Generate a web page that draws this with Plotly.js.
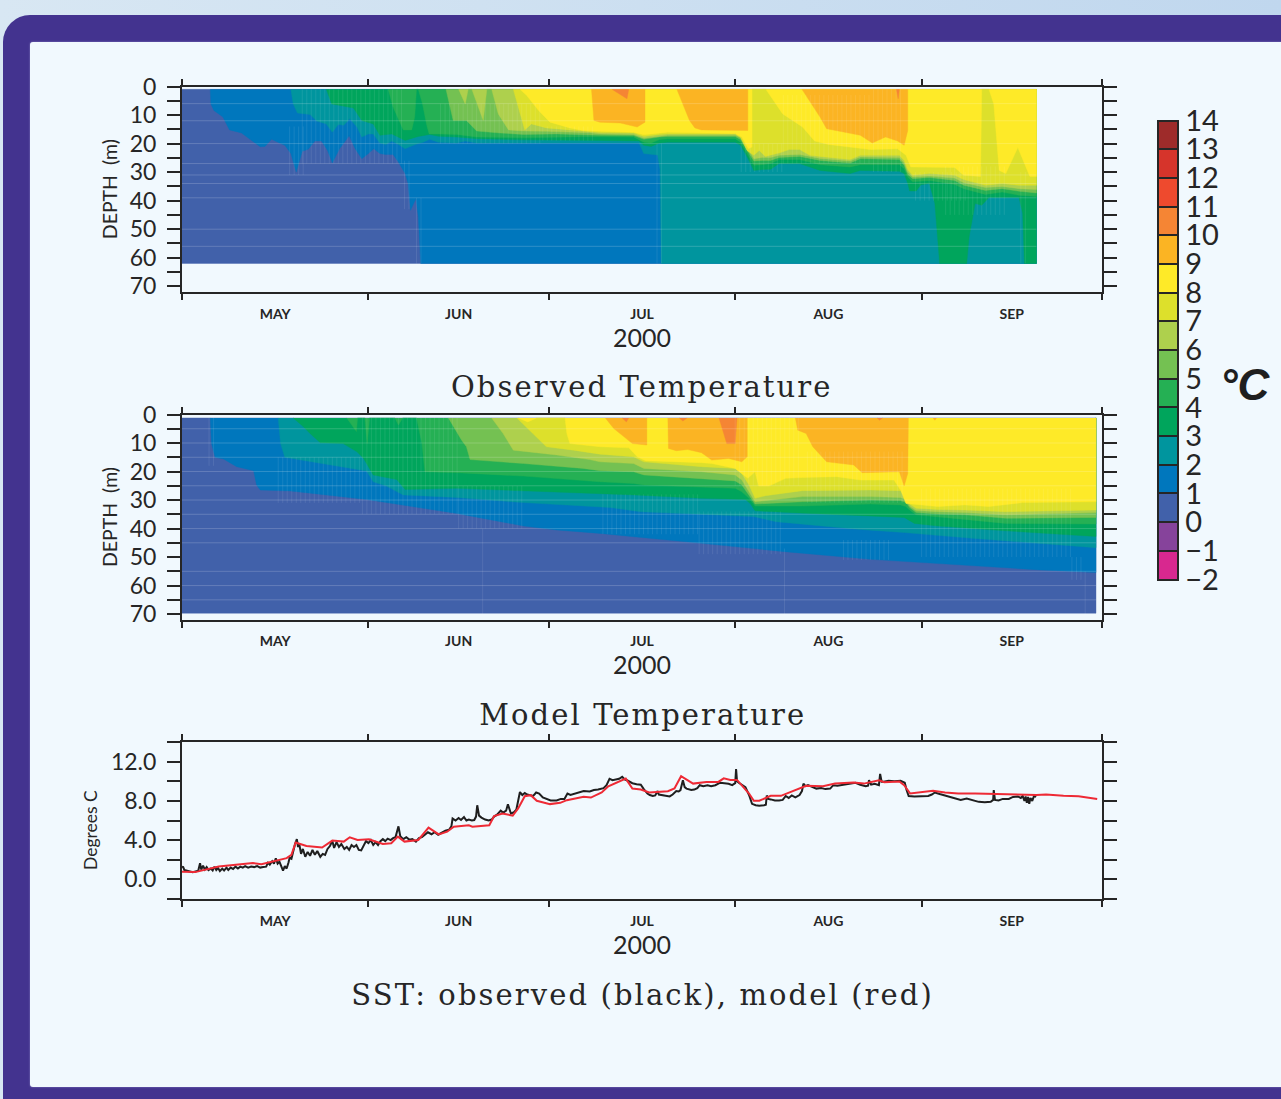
<!DOCTYPE html>
<html>
<head>
<meta charset="utf-8">
<script src="https://cdn.plot.ly/plotly-3.0.1.min.js"></script>
<style>
html,body{margin:0;padding:0;width:1281px;height:1099px;overflow:hidden;background:linear-gradient(90deg,#d8e7f3,#c0d7ee);}
#frame{position:absolute;left:3px;top:15px;width:1400px;height:1200px;background:#43338f;border-radius:27px;}
#panel{position:absolute;left:30px;top:42px;width:1300px;height:1045px;background:#f1f9fe;border-radius:3px 0 0 3px;box-shadow:0 0 2px #8f86c4;}
#chart{position:absolute;left:0;top:0;width:1281px;height:1099px;}
#chart .annotation[data-index="0"] .annotation-text,
#chart .annotation[data-index="1"] .annotation-text,
#chart .annotation[data-index="2"] .annotation-text{letter-spacing:2.1px;}
</style>
</head>
<body>
<div id="frame"></div>
<div id="panel"></div>
<div id="chart"></div>
<script>
// ---------- data: [days since 1 May 2000, depth in m] for each isotherm ----------
const tempLevels = [-2,-1,0,1,2,3,4,5,6,7,8,9,10,11,12,13,14];
const bandColors = ['#d8288f','#86439b','#4161aa','#0077bd','#00959e','#00a55c','#25b054','#74c152','#aed04d','#dde02b','#feea28','#fbb423','#f58534','#ee4a2e','#d6342b','#9e2b2a'];

// Upper panel (Observed Temperature)
const obsTop = 1, obsBottom = 62, obsEnd = 142.1;
const obsT1 = [[4.7,1],[4.8,6.1],[5.3,8.4],[6.8,10.7],[7.9,15.2],[9.9,16.3],[11.3,18.5],[13,21.1],[13.8,21],[14.9,18.5],[16.2,19.8],[17.1,20.6],[18.1,23.5],[19,30],[20,22.7],[21,22],[22.1,19.1],[23.2,19.1],[24.2,22.4],[25,26.8],[26.2,21.8],[27.8,17.3],[28.8,21.8],[29.9,25.3],[31,23.5],[31.9,21.8],[32.9,23.5],[33.8,23.8],[35.1,23.8],[36,26.5],[37.1,30.5],[37.6,34],[38,43.4],[38.9,39.3],[39.3,45.7],[39.7,62],[142.1,62]];
const obsT2 = [[18.1,1],[18.5,6.1],[19.2,9.3],[21.3,9.8],[22.4,12.1],[24,13.1],[25,16],[26,13.3],[26.9,13.6],[27.9,11.3],[29.1,14.2],[29.9,17.7],[31,16.6],[31.8,16.6],[32.9,19.8],[33.9,20.3],[34.9,19.1],[36,20.3],[37.1,21.8],[38.8,20.3],[40.1,19.5],[41.2,18.5],[42.6,19.5],[45.7,19.8],[47.1,19.1],[49,19.8],[76,19.8],[76.8,23.5],[79.1,24],[79.5,29],[79.7,62],[142.1,62]];
const obsT3 = [[24,1],[24.9,6.1],[28.5,7.5],[29.9,11.9],[31.8,13.1],[32.9,17.1],[34.9,16.6],[37.1,18.9],[39.3,17.5],[41.2,16.8],[42.6,17.4],[45.7,17.7],[49,18.3],[56.8,18.7],[69.5,18.9],[76,19.1],[76.8,20.6],[78,21],[79.4,19.8],[80.8,19.5],[92,19.5],[92.9,20.6],[94,24.7],[95.1,29.4],[96.5,29.1],[97.9,29],[99.3,27],[102.7,27],[106.1,29.4],[111.1,30.5],[112.8,29.4],[119.3,29.7],[120.1,30.5],[120.7,34],[121,36.6],[122.1,36.6],[122.9,34.4],[124.3,34],[125.2,41],[126,62],[130.5,62],[130.9,52.7],[131.9,41],[133,41.6],[134.2,38.9],[139.2,38.9],[139.8,44.5],[140.1,62],[142.1,62]];
const obsT4 = [[34.3,1],[35.1,7.2],[36.8,15.2],[38.2,15.2],[38.7,10.7],[39,1],[39.3,1],[40,6.1],[40.7,13.6],[41.1,16.6],[42.6,16.6],[45.7,16.8],[49,17.7],[56.8,18],[66.7,17.6],[69.5,17.7],[75.1,17.7],[76.8,19.5],[78,19.8],[79.4,18.6],[80.8,18.3],[92,18.3],[92.9,19.5],[94,23.5],[95.1,27.6],[96.5,27.4],[97.9,27],[99.3,25.6],[102.7,25.6],[106.1,27.4],[111.1,28.2],[112.8,27.4],[119.3,27.4],[120.1,28.8],[120.7,31.7],[121.5,33.4],[124.3,32.9],[128.5,34.3],[130,35.8],[133.6,37.8],[136.4,37],[139.2,38.1],[142.1,38.5]];
const obsT5 = [[43.9,1],[45.1,11.9],[47.3,11.9],[49,15.6],[52.9,16.3],[56.8,16.8],[62.3,16.6],[66.7,16.9],[69.5,17.1],[75.1,17.2],[76.8,18.5],[79.4,17.7],[80.8,17.5],[92,17.5],[92.9,18.6],[94,22.4],[95.1,26.1],[96.5,25.9],[97.9,25.9],[99.3,24.9],[102.7,24.5],[106.1,25.9],[111.1,26.8],[112.8,25.3],[119.3,25.6],[120.1,27.6],[120.7,30.8],[121.5,32.3],[124.3,31.9],[128.5,32.9],[130,34.6],[133.6,36.4],[136.4,35.8],[139.2,36.7],[142.1,37.3]];
const obsT6 = [[46,1],[47.1,6.1],[47.6,1],[48.2,1],[50.1,11.9],[50.7,1],[51.5,1],[52.6,9.6],[54.3,15.2],[56.8,15.6],[60.6,15.7],[64.5,16],[67.8,16.2],[69.5,16.6],[75.1,16.8],[76.8,18.1],[79.4,17.4],[80.8,17.1],[92,17.1],[92.9,17.9],[94,21.4],[95.1,25.3],[96.5,24.9],[97.9,24.9],[99.3,24.1],[102.7,23.8],[106.1,25.2],[111.1,26.1],[112.8,24.7],[119.3,24.9],[120.1,26.8],[120.7,30],[121.5,31.7],[124.3,31.4],[128.5,32.1],[130,33.7],[133.6,35.4],[136.4,35],[139.2,35.8],[142.1,36.1]];
const obsT7 = [[55.1,1],[56.2,9.6],[57,15.2],[58.1,13.1],[60.6,14.5],[64.5,15.2],[66.7,15.7],[69.5,16.1],[75.1,16.3],[76.8,17.5],[79.4,16.8],[80.8,16.6],[92,16.6],[92.9,17.9],[94,22.5],[95.1,24.1],[96,22.4],[97,24.5],[99.3,23.3],[101,22.1],[102.7,22.1],[104.4,24.1],[106.1,24.5],[111.1,25.6],[112.8,24.1],[119.3,24.1],[120.1,25.9],[120.7,29.1],[121.5,31.1],[124.3,30.5],[128.5,31.1],[130,32.6],[133.6,34.6],[136.4,34],[139.2,34.6],[142.1,34.6]];
const obsT8 = [[56.2,1],[57.3,3.1],[59.3,8.4],[61.2,12.5],[64.5,14.5],[66.7,15.4],[69.5,15.7],[75.1,16],[76.8,16.9],[79.4,16.3],[80.8,16],[92,16.5],[93.1,17.7],[94.2,21.8],[94.8,21.2],[94.8,1],[97.1,1],[99.9,9.6],[103.2,14.2],[105.2,19.1],[107.5,20.3],[114.5,22.1],[119,21.8],[120.4,24.1],[121.2,28.2],[128.5,28.4],[130,31.1],[132.8,31.5],[133,1],[134.2,1],[135,6.1],[135.9,29.4],[137,30.5],[139,21.4],[141,31.5],[142.1,31.5]];
const obsT9a = [[68.1,1],[68.5,11.9],[69.5,12.5],[72.9,12.8],[75.7,14.2],[77,12.5],[77,1]];
const obsT9b = [[82.3,1],[84.4,11.9],[85.3,14.5],[86.4,15.2],[94.1,15.4],[94.1,1]];
const obsT9c = [[103.1,1],[106.1,10.7],[107.2,14.8],[112.8,17.1],[114.8,19.8],[117,17.7],[119,19.1],[120.1,20.6],[120.7,15.4],[120.7,1]];
const obsT10a = [[71.5,1],[74,4.3],[74.3,1]];
const obsT10b = [[118.8,1],[119.1,4.3],[119.3,1]];
const obsSeams = [6,12,20,27,31,34,39,50,56];
// tile seams of the source image: [first day, last day, depth from, depth to]
const obsCombs = [[17.9,20.5,14,31],[20,37,1,27],[37,38,26,43],[39,40,39,62],[43,60,6,20],[60,69,14,19],[79,80,20,62],[93,100,20,30],[100,115,3,27],[115,120,1,30],[122,131,30,40],[127,137,28,45],[139.5,141,30,62]];

// Middle panel (Model Temperature)
const modTop = 1.2, modBottom = 69.7, modEnd = 152;
const modT1 = [[4.7,1.2],[4.9,10.2],[5.5,15],[6.9,15.6],[9.1,18.3],[11.9,19.7],[12.4,24.7],[13,26.5],[18,26.8],[30.7,29.8],[45.7,34.7],[56.8,39.1],[62.3,40.5],[69.5,41.7],[86.4,45.2],[100.2,48.1],[114.5,50.8],[125.7,52.2],[142.6,54.5],[152,55.4]];
const modT2 = [[16,1.2],[16.4,10.2],[17.1,15],[23.5,17.2],[30.7,19.8],[31.8,23.6],[34,25.1],[36.8,28.2],[45.7,29.1],[56.8,30.9],[71.2,32.6],[76.3,34.1],[88.1,35.2],[95.1,35.8],[98.8,37.6],[112.8,40.3],[120.1,41.4],[131.4,43.4],[152,46.7]];
const modT3 = [[18.5,1.2],[20.2,4.3],[21.3,6.7],[23,9.9],[26.8,10.2],[29.1,13.1],[30.2,15.4],[31.8,21.2],[35.7,22.8],[37.1,26.3],[45.7,25.9],[56.8,26.7],[71.2,27.7],[75.1,28.2],[86.4,29.4],[93.7,29.8],[94.5,31.2],[95.3,33.8],[104.4,34.7],[120.1,36.1],[121.8,38.2],[125.7,39.1],[137,40.8],[152,42.8]];
const modT4 = [[27.4,1.2],[29,6],[29.2,1.2],[30.4,1.2],[30.8,10.2],[31.2,1.2],[35.4,1.2],[36,3.7],[36.7,1.2],[39,1.2],[39.9,10.2],[40.4,20.1],[45.7,20.4],[56.8,21.6],[69.5,23.6],[75.1,24.2],[76.8,24.7],[86.4,25.6],[92,25.9],[93.1,27.1],[94.3,29.4],[95.3,32.1],[103.2,32.1],[114.5,31.4],[119.5,31.7],[120.4,32.3],[121,33.5],[122.1,35.2],[125.7,36],[130.2,36.8],[137,38.2],[152,38.4]];
const modT5 = [[44.3,1.2],[46.5,9],[47.3,11.3],[47.9,15.8],[56.8,17.2],[66.7,18.9],[69.5,19.7],[75.1,20.1],[76.8,21.2],[86.4,22.4],[92,23.3],[93.1,24.7],[94.3,28.2],[95.3,31.4],[103.2,30.6],[114.5,30],[119.5,30.2],[120.4,30.9],[121,32.6],[122.1,34.4],[125.7,34.9],[130.2,35.2],[137,36.4],[152,36.1]];
const modT6 = [[51.5,1.2],[53.4,6.7],[55.1,12.5],[62.3,14.2],[67.8,15.8],[69.5,16.6],[75.1,17.2],[76.8,18.9],[86.4,20.1],[92,21.2],[93.1,23],[94.3,27.4],[95.3,30.6],[103.2,28.8],[114.5,28.8],[119.5,29.1],[120.4,29.8],[121,32.1],[122.1,33.7],[125.7,34.1],[130.2,34.4],[137,35.2],[152,34.4]];
const modT7 = [[55.7,1.2],[58.4,6.7],[60.6,11.3],[65.1,12.5],[69.5,13.9],[75.1,14.8],[76.8,16.6],[86.4,18.3],[92,18.9],[93.1,20.7],[94.3,24.7],[95.3,29.4],[97,28.5],[103.2,26.7],[114.5,26.5],[119.5,26.7],[120.4,28.2],[121,31.4],[122.1,32.9],[125.7,33.3],[130.2,33.5],[137,34.1],[152,33.5]];
const modT8 = [[55.9,1.2],[57.5,2.6],[59,1.2],[63.7,1.2],[64,6.7],[64.5,10.2],[69.5,11.3],[74.3,11.7],[75.7,14.8],[77.1,16.2],[86.4,16.9],[88.1,17.2],[92,18.9],[94.1,22.4],[95.3,20.1],[95.9,25.1],[97.6,25.1],[100.4,22.4],[103.2,22.1],[108.9,21.8],[112.8,23],[118.4,23],[119.5,26.5],[120.4,31.2],[125.7,32.3],[130.2,31.7],[134.2,32.3],[139.8,30.9],[152,30.6]];
const modT9a = [[70.4,1.2],[71.8,4.9],[74.9,10.2],[77.3,10.7],[77.3,1.2]];
const modT9b = [[80.8,1.2],[80.9,11.9],[82.2,12.7],[84.1,12.3],[86.4,13.4],[88.1,16],[90.9,15.4],[93.1,16.6],[94,14.8],[94,1.2]];
const modT9c = [[102,1.2],[102.4,5.5],[103.8,6.7],[104.9,11.3],[107.2,16.6],[111.7,17.7],[113.1,20.4],[119.3,20.1],[120.1,25.1],[120.7,20.7],[120.8,1.2]];
const modT9d = [[124.9,1.2],[125.2,2],[125.5,1.2]];
const modT10a = [[73.2,1.2],[73.9,2.6],[74.3,1.2]];
const modT10b = [[82.7,1.2],[83.3,2.3],[84,1.2]];
const modT10c = [[89.3,1.2],[90.6,10.2],[92,10.2],[92.3,1.2]];
const modT10d = [[115.6,1.2],[116,2],[116.5,1.2]];
const modSeams = [5,10,15,20,25,30,35,40,45,55,60,65];
const modCombs = [[4.5,6,1,18],[16,30,15,31],[30,46,1,35],[46,57,25,40],[70,86,28,42],[86,100,34,49],[92,103,1,25],[104,120,13,31],[110,118,44,51],[123,148,26,50],[148,150,50,58],[50,50.5,40,70],[100.2,100.7,47,70],[150.2,150.7,55,70]];

// Lower panel: SST, [days since 1 May 2000, degrees C]
const sstObserved = [[0,1.3],[.2,1.25],[.4,.95],[.8,.85],[1.3,.8],[1.8,.72],[2.3,.78],[2.7,.88],[3,1.65],[3.2,1.0],[3.5,1.4],[3.8,1.0],[4.1,1.25],[4.4,.95],[4.8,1.1],[5.1,.9],[5.4,1.3],[5.7,.95],[6,1.15],[6.3,.85],[6.7,1.1],[7,.9],[7.4,1.2],[7.7,.95],[8.1,1.2],[8.5,1.05],[8.9,1.3],[9.3,1.1],[9.7,1.3],[10.1,1.2],[10.5,1.35],[11,1.2],[11.5,1.3],[12,1.25],[12.5,1.35],[13,1.2],[13.5,1.25],[14,1.3],[14.3,1.7],[14.6,1.5],[15,1.85],[15.3,1.6],[15.6,2.15],[15.9,1.6],[16.2,1.8],[16.5,1.3],[16.8,.9],[17.1,1.35],[17.4,1.1],[17.7,1.7],[17.9,2.2],[18.2,2.1],[18.5,3],[18.8,3.6],[19.1,4.1],[19.3,3.3],[19.5,3.6],[19.8,2.6],[20.1,3.1],[20.5,2.3],[20.9,2.8],[21.3,2.4],[21.7,3],[22.1,2.5],[22.5,2.9],[23,2.3],[23.4,2.6],[23.8,2.5],[24.2,3.1],[24.6,3.4],[25,3.9],[25.3,3.2],[25.7,3.8],[26.1,3.3],[26.5,3.6],[27,3.1],[27.4,3.3],[27.8,3],[28.2,3.5],[28.6,3.3],[29,3.5],[29.4,3],[29.8,2.95],[30.2,3.5],[30.6,3.9],[31,3.7],[31.4,4],[31.8,3.5],[32.2,3.8],[32.6,3.5],[33,3.9],[33.4,4.1],[33.8,3.9],[34.2,4.15],[34.7,4],[35.1,4.2],[35.5,4.3],[36,5.4],[36.3,4.4],[36.8,4.1],[37.3,4.3],[37.8,4.05],[38.3,4.1],[38.9,3.85],[39.4,4.2],[39.9,4.3],[40.4,4.55],[40.9,4.8],[41.5,4.6],[42,4.8],[42.6,4.55],[43.2,4.75],[43.8,4.95],[44.4,5.05],[44.8,5.4],[45,6.2],[45.5,6],[46,6.25],[46.4,6.05],[46.9,6.35],[47.3,6],[47.7,6.1],[48.2,6],[48.6,6.05],[48.9,6.4],[49.1,7.55],[49.4,6.5],[49.8,6.3],[50.4,6.1],[51,6],[51.5,6.1],[51.9,6.4],[52.4,6.6],[53,7],[53.4,6.8],[53.9,7],[54.2,7.65],[54.7,6.7],[55.2,6.85],[55.6,7.1],[55.9,8],[56.2,8.9],[56.6,8.6],[57,8.8],[57.4,8.65],[57.9,8.6],[58.4,8.5],[58.9,8.85],[59.4,8.75],[60,8.35],[60.6,8.2],[61.3,8.05],[62.3,8.05],[63,8.2],[63.6,8.2],[64.1,8.75],[64.6,8.6],[65.2,8.7],[65.8,8.85],[66.8,9],[67.8,8.95],[68.5,9.1],[69.2,9.15],[70.1,9.3],[70.6,9.6],[71.1,10.25],[71.6,10.1],[72.1,10.2],[72.7,10.25],[73.2,10.45],[73.6,10.2],[74,10.1],[74.5,9.95],[74.9,9.8],[75.6,9.7],[76.3,9.65],[76.8,9.2],[77.4,8.75],[77.8,8.6],[78.3,8.5],[78.7,8.55],[79.1,9],[79.3,8.65],[79.7,8.6],[80.4,8.5],[81.1,8.45],[81.6,8.65],[82.2,9],[82.6,8.95],[82.9,9.1],[83.3,10.1],[83.6,9.4],[83.9,9.25],[84.3,9.15],[84.7,9.1],[85.2,9.15],[85.7,9.3],[86.1,9.6],[86.7,9.5],[87.4,9.6],[88,9.5],[88.7,9.6],[89.5,9.85],[90.2,9.8],[90.9,9.75],[91.5,9.6],[92,9.8],[92.15,11.25],[92.3,10],[92.6,9.85],[93.2,9.6],[93.7,9.4],[94.3,8.6],[94.8,7.7],[95.4,7.55],[96,7.5],[96.8,7.55],[97.1,7.6],[97.25,8.55],[97.5,8.2],[97.9,8.15],[98.6,8.05],[99.3,8.05],[99.9,8.1],[100.4,8.5],[100.9,8.3],[101.4,8.55],[102,8.35],[102.7,8.6],[103.1,9],[103.35,9.75],[103.7,9.5],[104.1,9.6],[104.7,9.45],[105.5,9.25],[106.3,9.3],[107,9.2],[107.8,9.25],[108.3,9.6],[109,9.55],[109.8,9.65],[110.5,9.7],[111.1,9.75],[112,9.85],[112.8,9.65],[113.7,9.5],[114.1,9.55],[114.25,10.1],[114.6,9.65],[115.2,9.75],[115.9,9.6],[116.1,10.75],[116.35,9.95],[116.7,9.95],[117.5,10.05],[118.5,10],[119.5,10.05],[120.2,9.85],[120.5,9.1],[120.85,8.5],[121.8,8.45],[123,8.5],[124.1,8.5],[124.7,8.65],[125.2,8.85],[126,8.7],[126.9,8.55],[127.8,8.35],[128.7,8.2],[129.5,8.1],[130.5,8.25],[131.5,8.1],[132.5,7.9],[133.5,7.85],[134.5,7.9],[134.9,8.1],[135,9.1],[135.2,8.1],[135.8,8.05],[136.5,8.2],[137.5,8.2],[138.2,8.4],[139,8.45],[139.5,8.3],[139.8,8.5],[140.1,8.0],[140.3,8.45],[140.5,7.8],[140.7,8.4],[140.9,7.7],[141.1,8.3],[141.4,8],[141.7,8.5],[142.05,8.4]];
const sstModel = [[0,.78],[2.2,.74],[6.1,1.32],[11.8,1.66],[13.2,1.55],[17.4,2.16],[18.2,2.5],[18.9,3.75],[20.7,3.41],[23.3,3.24],[25,3.95],[26.9,3.85],[27.9,4.29],[29.2,4.02],[31.1,4.09],[33.4,3.61],[34.8,3.68],[35.9,4.36],[37,3.85],[39.3,4.02],[41,5.27],[42.7,4.59],[44.1,4.86],[45.2,5.37],[47.7,5.51],[48.3,5.37],[51.1,5.51],[51.9,6.45],[53.3,6.72],[55,6.49],[55.9,7.23],[57,8.48],[58,8.58],[59,8.01],[61.2,7.67],[62.9,7.8],[64,8.07],[66.8,8.41],[68,8.34],[69.8,8.85],[70.9,9.49],[73.8,10.27],[74.9,9.26],[76.3,9.16],[77.7,8.85],[80.8,8.99],[81.9,9.26],[83,10.51],[85,9.76],[87.2,9.93],[89.2,9.93],[90.1,10.3],[91.2,10.14],[92.3,10.14],[94.3,8.75],[95.1,8.01],[96,8.01],[97.9,8.51],[99.6,8.51],[103,9.36],[103.8,9.53],[106.6,9.49],[108.6,9.76],[111.7,9.86],[113.4,9.76],[115.9,10.1],[116.8,9.9],[119.3,9.97],[120.1,9.59],[121.1,8.75],[124.9,9.02],[126.9,8.85],[129.1,8.75],[131.9,8.75],[135.3,8.68],[142.1,8.61],[143.7,8.65],[146.6,8.51],[149.1,8.48],[150.5,8.31],[152.2,8.18]];

const depthTicks = [0,5,10,15,20,25,30,35,40,45,50,55,60,65,70];
const depthLabels = ['0','','10','','20','','30','','40','','50','','60','','70'];
const sstTicks = [-2,0,2,4,6,8,10,12,14];
const sstLabels = ['','0.0','','4.0','','8.0','','12.0',''];

// ---------- helpers ----------
const W = 1281, H = 1099;
const INK = '#262626', TICKFONT = 'Lato, sans-serif', SERIF = '"DejaVu Serif", serif';
const START = Date.UTC(2000,4,1);
const toDate = d => new Date(START + d*864e5).toISOString().slice(0,19);
const px = x => x/W, py = y => 1 - y/H;

function band(pts, level, xaxis, yaxis, closeAt){
  const p = closeAt ? pts.concat([closeAt]) : pts;
  return {type:'scatter', mode:'lines', xaxis, yaxis, x:p.map(q=>toDate(q[0])), y:p.map(q=>q[1]),
    fill:'toself', fillcolor:bandColors[level+2], line:{color:bandColors[level+2], width:0.4},
    hoverinfo:'skip', name:level+' to '+(level+1)+' °C', showlegend:false};
}
function seams(depths, combs, x0, x1, xaxis, yaxis){
  const xs=[], ys=[];
  depths.forEach(d=>{xs.push(toDate(x0),toDate(x1),null); ys.push(d,d,null);});
  const hz={type:'scatter', mode:'lines', xaxis, yaxis, x:xs, y:ys, line:{color:'rgba(255,255,255,0.18)', width:1}, hoverinfo:'skip', showlegend:false};
  const vx=[], vy=[];
  combs.forEach(c=>{for(let d=c[0]; d<c[1]; d+=0.75){vx.push(toDate(d),toDate(d),null); vy.push(c[2],c[3],null);}});
  const vt={type:'scatter', mode:'lines', xaxis, yaxis, x:vx, y:vy, line:{color:'rgba(255,255,255,0.09)', width:1}, hoverinfo:'skip', showlegend:false};
  return [hz,vt];
}

const traces = [];
// upper panel
traces.push(band([[0,obsTop],[obsEnd,obsTop],[obsEnd,obsBottom],[0,obsBottom]],0,'x','y'));
const obsC=[obsEnd,obsTop];
[[obsT1,1],[obsT2,2],[obsT3,3],[obsT4,4],[obsT5,5],[obsT6,6],[obsT7,7],[obsT8,8]].forEach(a=>traces.push(band(a[0],a[1],'x','y',obsC)));
[[obsT9a,9],[obsT9b,9],[obsT9c,9],[obsT10a,10],[obsT10b,10]].forEach(a=>traces.push(band(a[0],a[1],'x','y')));
traces.push(...seams(obsSeams,obsCombs,0,obsEnd,'x','y'));
// middle panel
traces.push(band([[0,modTop],[modEnd,modTop],[modEnd,modBottom],[0,modBottom]],0,'x2','y2'));
const modC=[modEnd,modTop];
[[modT1,1],[modT2,2],[modT3,3],[modT4,4],[modT5,5],[modT6,6],[modT7,7],[modT8,8]].forEach(a=>traces.push(band(a[0],a[1],'x2','y2',modC)));
[[modT9a,9],[modT9b,9],[modT9c,9],[modT9d,9],[modT10a,10],[modT10b,10],[modT10c,10],[modT10d,10]].forEach(a=>traces.push(band(a[0],a[1],'x2','y2')));
traces.push(...seams(modSeams,modCombs,0,modEnd,'x2','y2'));
// lower panel
traces.push({type:'scatter',mode:'lines',xaxis:'x3',yaxis:'y3',x:sstObserved.map(q=>toDate(q[0])),y:sstObserved.map(q=>q[1]),line:{color:'#1f1f1f',width:2},name:'observed',showlegend:false});
traces.push({type:'scatter',mode:'lines',xaxis:'x3',yaxis:'y3',x:sstModel.map(q=>toDate(q[0])),y:sstModel.map(q=>q[1]),line:{color:'#ee2a35',width:2},name:'model',showlegend:false});
// colour key
const stops=[]; bandColors.forEach((c,i)=>{stops.push([i/16,c],[(i+1)/16,c]);});
traces.push({type:'scatter',mode:'markers',xaxis:'x3',yaxis:'y3',x:tempLevels.map(()=>null),y:tempLevels.map(()=>null),hoverinfo:'skip',showlegend:false,
  marker:{color:tempLevels,cmin:-2,cmax:14,colorscale:stops,showscale:true,
    colorbar:{x:px(1158),xanchor:'left',xpad:0,y:py(579.5),yanchor:'bottom',ypad:0,len:458.5,lenmode:'pixels',thickness:20,thicknessmode:'pixels',
      outlinecolor:INK,outlinewidth:2,tickmode:'array',tickvals:tempLevels,ticks:'inside',ticklen:20,tickwidth:2,tickcolor:INK,
      tickfont:{family:TICKFONT,size:29,color:INK}}}});

function xAxis(domainAnchor){
  return {type:'date',domain:[px(182),px(1102)],anchor:domainAnchor,range:['2000-05-01','2000-10-01'],
    tick0:'2000-05-01',dtick:'M1',ticklabelmode:'period',tickformat:'%b',ticks:'outside',ticklen:6,tickwidth:2,tickcolor:INK,
    ticklabelstandoff:2,tickfont:{family:TICKFONT,size:14,color:INK,weight:700,textcase:'upper'},
    showline:true,linecolor:INK,linewidth:2,mirror:'ticks',showgrid:false,zeroline:false,
    title:{text:'2000',font:{family:TICKFONT,size:25,color:INK},standoff:5}};
}
function yAxis(top,bottom,anchor,range,tv,tt,title,standoff,size){
  return {domain:[py(bottom),py(top)],anchor,range,tickmode:'array',tickvals:tv,ticktext:tt,ticks:'outside',ticklen:13,tickwidth:2,tickcolor:INK,
    ticklabelstandoff:6,tickfont:{family:TICKFONT,size:23,color:INK},showline:true,linecolor:INK,linewidth:2,mirror:'ticks',showgrid:false,zeroline:false,
    title:title?{text:title,font:{family:TICKFONT,size:size,color:INK},standoff}:undefined};
}
const ann=(text,x,y,font,angle)=>({xref:'paper',yref:'paper',x:px(x),y:py(y),xanchor:'center',yanchor:'middle',showarrow:false,text,font,textangle:angle||0});
const layout = {
  width:W,height:H,margin:{l:0,r:0,t:0,b:0,autoexpand:false},paper_bgcolor:'rgba(0,0,0,0)',plot_bgcolor:'rgba(0,0,0,0)',showlegend:false,
  xaxis:xAxis('y'),xaxis2:xAxis('y2'),xaxis3:xAxis('y3'),
  yaxis:yAxis(86.5,291.7,'x',[71.9,0],depthTicks,depthLabels,'DEPTH  (m)',7,19.5),
  yaxis2:yAxis(414.5,619.5,'x2',[71.9,0],depthTicks,depthLabels,'DEPTH  (m)',7,19.5),
  yaxis3:yAxis(742,899,'x3',[-2,14],sstTicks,sstLabels),
  annotations:[
    ann('Observed Temperature',642,387,{family:SERIF,size:29,color:INK}),
    ann('Model Temperature',642,715,{family:SERIF,size:29,color:INK}),
    ann('SST: observed (black), model (red)',642,995,{family:SERIF,size:29,color:INK}),
    ann('°C',1245,385,{family:'"Liberation Sans", sans-serif',size:44,color:'#1f1f1f',style:'italic',weight:700}),
    ann('Degrees C',90,830,{family:TICKFONT,size:17.5,color:INK},-90)
  ]
};
Plotly.newPlot('chart',traces,layout,{displayModeBar:false,staticPlot:true});
</script>
</body>
</html>
